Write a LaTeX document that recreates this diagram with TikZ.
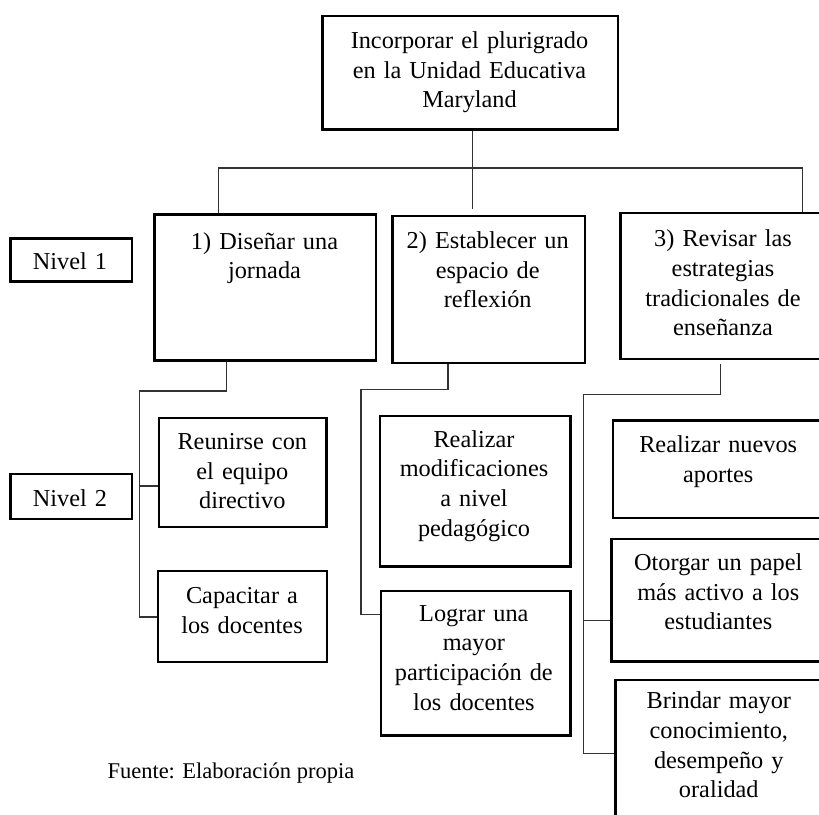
\documentclass[tikz,border=0pt]{standalone}
\usepackage{fontspec}
\setmainfont{Liberation Serif}
\begin{document}
\begin{tikzpicture}[x=1pt,y=-1pt,
  box/.style={draw=black,line width=2.2pt,inner sep=0pt,anchor=north west},
  txt/.style={inner sep=0pt,anchor=base,text width=300pt,align=center,
    font={\fontsize{24.3}{29.7}\selectfont}},
  conn/.style={draw=black!80,line width=1.1pt}]
\useasboundingbox (0,0) rectangle (819,814);
\clip (0,0) rectangle (819,814);

% boxes
\node[box,minimum width=295.7pt,minimum height=113.3pt] (top) at (321.3,15) {};
\node[box,minimum width=121.4pt,minimum height=43pt] (n1) at (9.3,237.3) {};
\node[box,minimum width=121.4pt,minimum height=45pt] (n2) at (9.3,472.7) {};
\node[box,minimum width=221.4pt,minimum height=146pt] (b1) at (153.3,213.3) {};
\node[box,minimum width=192.4pt,minimum height=146.7pt] (b2) at (391.3,215) {};
\node[box,minimum width=207.4pt,minimum height=146pt] (b3) at (619.3,211.7) {};
\node[box,minimum width=167.6pt,minimum height=109.3pt] (r1) at (157.7,416.7) {};
\node[box,minimum width=169pt,minimum height=91.3pt] (c1) at (156.7,569.7) {};
\node[box,minimum width=190.3pt,minimum height=150.3pt] (m2) at (379,415) {};
\node[box,minimum width=189.6pt,minimum height=144.6pt] (l2) at (379.7,589.7) {};
\node[box,minimum width=212.4pt,minimum height=97.4pt] (a3) at (612,419.3) {};
\node[box,minimum width=215.7pt,minimum height=122.6pt] (o3) at (610.3,537.7) {};
\node[box,minimum width=209pt,minimum height=160pt] (d3) at (614.3,678.7) {};

% texts
\node[txt] (ttop) at (469.5,48.5) {Incorporar el plurigrado\\en la Unidad Educativa\\Maryland};
\node[txt] (tn1) at (70,269.3) {Nivel 1};
\node[txt] (tn2) at (70,506) {Nivel 2};
\node[txt] (tb1) at (264.5,249) {1) Diseñar una\\jornada};
\node[txt] (tb2) at (487.7,248.5) {2) Establecer un\\espacio de\\reflexión};
\node[txt] (tb3) at (723,246.7) {3) Revisar las\\estrategias\\tradicionales de\\enseñanza};
\node[txt] (tr1) at (242.3,449.3) {Reunirse con\\el equipo\\directivo};
\node[txt] (tc1) at (242,603.7) {Capacitar a\\los docentes};
\node[txt] (tm2) at (474,447) {Realizar\\modificaciones\\a nivel\\pedagógico};
\node[txt] (tl2) at (473.8,621) {Lograr una\\mayor\\participación de\\los docentes};
\node[txt] (ta3) at (718.2,452.7) {Realizar nuevos\\aportes};
\node[txt] (to3) at (718.3,570.3) {Otorgar un papel\\más activo a los\\estudiantes};
\node[txt] (td3) at (718.8,708.7) {Brindar mayor\\conocimiento,\\desempeño y\\oralidad};
\node[inner sep=0pt,anchor=base west,font={\fontsize{22.5}{27}\selectfont}] (src) at (107.3,778.7) {Fuente: Elaboración propia};

% top level connectors
\coordinate (hl) at (218.3,168);
\coordinate (hr) at (802.5,168);
\coordinate (mid) at (472.3,209.3);
\draw[conn] (mid |- top.south) -- (mid);
\draw[conn] (hl) -- (hr);
\draw[conn] (hl) -- (hl |- b1.north);
\draw[conn] (hr) -- (hr |- b3.north);

% branch of box 1
\coordinate (p1) at (226.7,391);
\coordinate (q1) at (139.3,391);
\coordinate (k1a) at (139.3,486);
\coordinate (k1b) at (139.3,617);
\draw[conn] (p1 |- b1.south) -- (p1) -- (q1) -- (k1b);
\draw[conn] (k1a) -- (k1a -| r1.west);
\draw[conn] (k1b) -- (k1b -| c1.west);

% branch of box 2
\coordinate (p2) at (448,389.3);
\coordinate (q2) at (361,389.3);
\coordinate (k2) at (361,614.7);
\draw[conn] (p2 |- b2.south) -- (p2) -- (q2) -- (k2);
\draw[conn] (k2) -- (k2 -| l2.west);

% branch of box 3
\coordinate (s3) at (720.3,364.3);
\coordinate (p3) at (720.3,394.3);
\coordinate (q3) at (583.3,394.3);
\coordinate (k3a) at (583.3,620.3);
\coordinate (k3b) at (583.3,753.7);
\draw[conn] (s3) -- (p3) -- (q3) -- (k3b);
\draw[conn] (k3a) -- (k3a -| o3.west);
\draw[conn] (k3b) -- (k3b -| d3.west);
\end{tikzpicture}
\end{document}
